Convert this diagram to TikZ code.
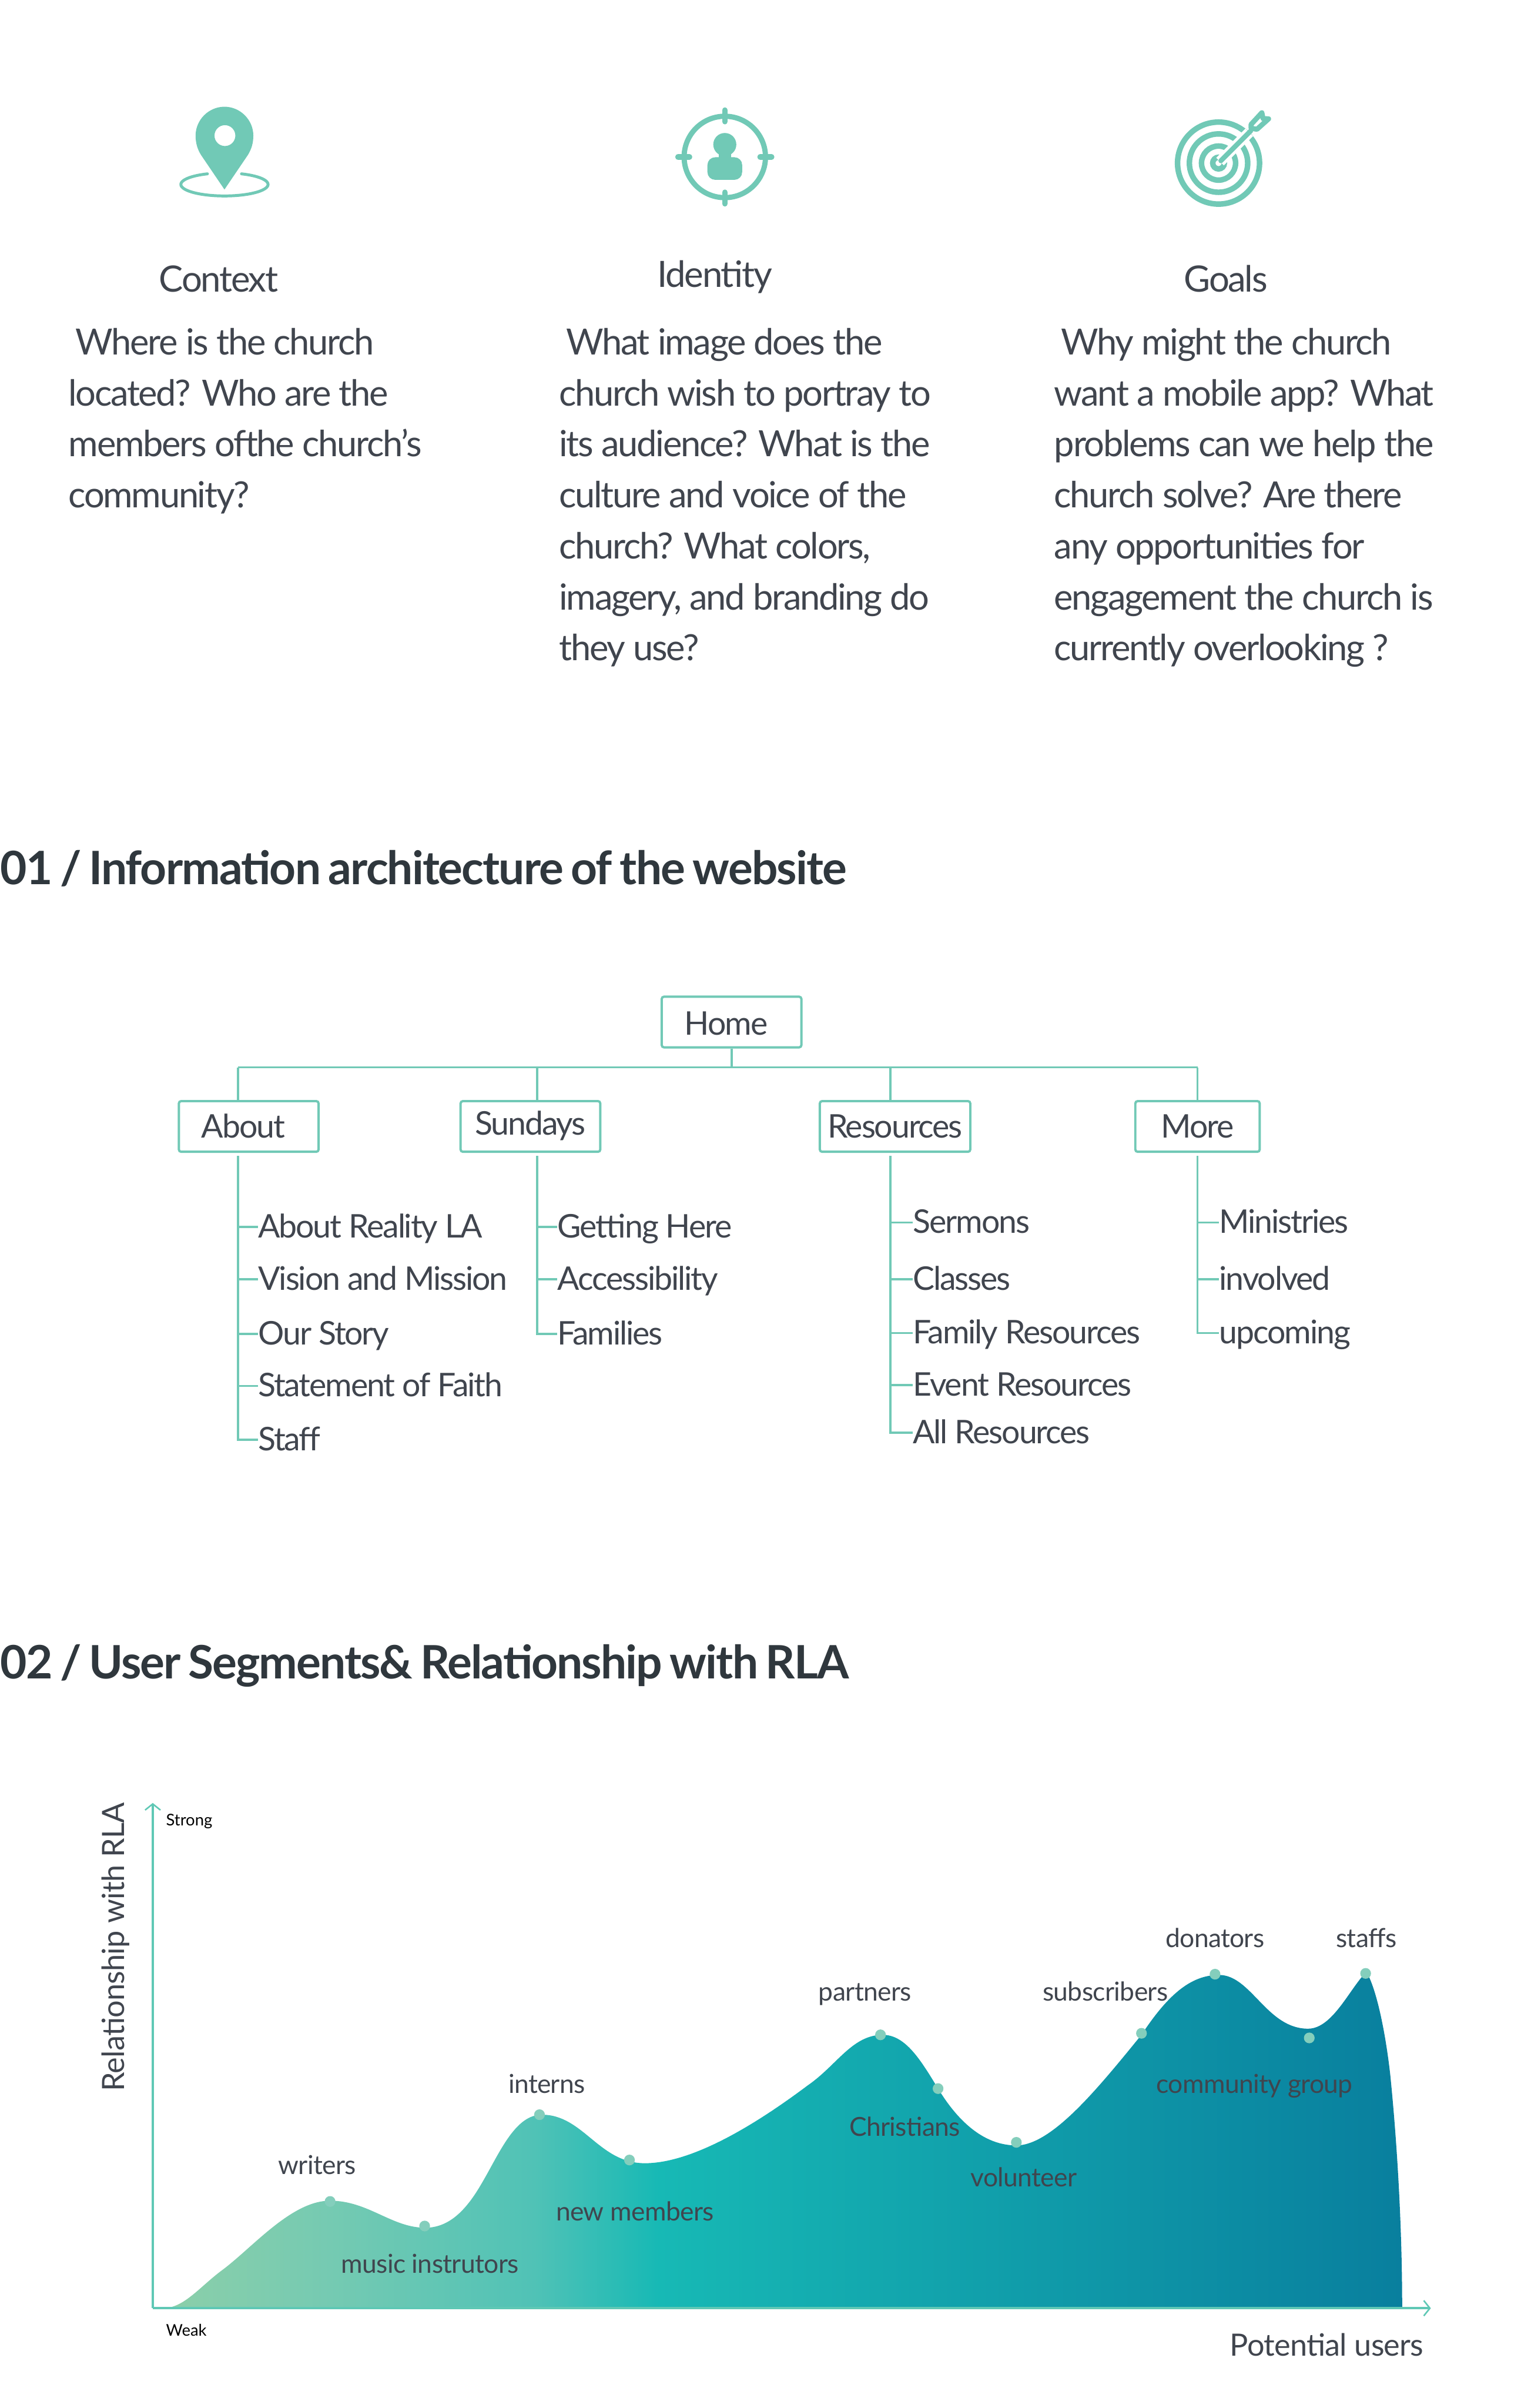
\documentclass[tikz,border=0pt]{standalone}
\usepackage{fontspec}
\setmainfont{Lato}
\newfontfamily\bodyfont{Lato}[LetterSpace=-3.8]
\newfontfamily\headfont{Lato}[LetterSpace=-2.5, WordSpace=0.75]
\newfontfamily\labelfont{Lato}[LetterSpace=-1.5]
\usepackage{xcolor}
\usetikzlibrary{arrows.meta, positioning}
\definecolor{teal}{HTML}{71C9B6}
\definecolor{ink}{HTML}{40454E}
\definecolor{headink}{HTML}{2F373D}
\definecolor{dotc}{HTML}{84CEBC}
\definecolor{axisc}{HTML}{5FC8B5}
\definecolor{chartA}{HTML}{8CCFA9}
\definecolor{chartM}{HTML}{75CAB2}
\definecolor{chartN}{HTML}{50C2B6}
\definecolor{chartB}{HTML}{17B9B5}
\definecolor{chartC}{HTML}{097F9E}
\pgfdeclarehorizontalshading{areafade}{100bp}{color(0bp)=(chartA); color(25bp)=(chartA); color(31.75bp)=(chartM); color(40bp)=(chartN); color(45bp)=(chartB); color(75bp)=(chartC); color(100bp)=(chartC)}
\tikzset{
  coltitle/.style={anchor=base west, inner sep=0pt, text=ink, font=\fontsize{23.6}{29}\selectfont\bodyfont},
  bodytext/.style={anchor=north west, inner sep=0pt, align=left, text=ink, font=\fontsize{23.5}{33.2}\selectfont\bodyfont},
  headline/.style={anchor=base west, inner sep=0pt, text=headink, font=\fontsize{30}{36}\selectfont\headfont\bfseries},
  treebox/.style={draw=teal, line width=1.5pt, rounded corners=1.5pt, inner sep=0pt, minimum height=33pt, text height=21pt, text depth=6pt, text=ink, font=\fontsize{21.2}{26}\selectfont\bodyfont},
  leaf/.style={anchor=west, inner sep=0pt, text height=20pt, text depth=6pt, text=ink, font=\fontsize{21.2}{26}\selectfont\bodyfont},
  treeline/.style={teal, line width=1.4pt},
  seglabel/.style={anchor=base west, inner sep=0pt, text=ink, font=\fontsize{17}{20}\selectfont\labelfont},
  smalllabel/.style={anchor=base west, inner sep=0pt, text=black, font=\fontsize{10.5}{12}\selectfont},
  segdot/.style={circle, fill=dotc, inner sep=0pt, minimum size=7pt},
  axisline/.style={axisc, line width=1.5pt, -{Straight Barb[length=4pt,width=10pt,line width=1pt]}},
}
\begin{document}
\begin{tikzpicture}[x=1pt, y=-1pt]
\fill[white] (0,0) rectangle (997,1568);

% Pin icon
\fill[teal, even odd rule] (146.2,123.4) -- (131,101) .. controls (128.5,97) and (127.4,93) .. (127.4,88.3)
  .. controls (127.4,78) and (136,69.5) .. (146.2,69.5) .. controls (156.4,69.5) and (165,78) .. (165,88.3)
  .. controls (165,93) and (163.9,97) .. (161.4,101) -- cycle
  (146.5,88.3) circle[radius=6.8pt];
\draw[teal, line width=1.9pt, line cap=round] plot[domain=113:427, samples=60, smooth] ({146.2+28.4*cos(\x)},{120.1-7.5*sin(\x)});

% Person icon
\begin{scope}[shift={(472.1,102.2)}]
\draw[teal, line width=3.4pt] (0,0) circle[radius=26.5pt];
\draw[teal, line width=3.6pt, line cap=round] (0,-30.5) -- (0,-23) (0,23) -- (0,30.5) (-30.5,0) -- (-23,0) (23,0) -- (30.5,0);
\fill[teal] (0,-8.1) circle[radius=7.5pt];
\fill[teal] (-4,-3) rectangle (4,2);
\fill[teal, rounded corners=5pt] (-11.3,14.9) -- (-11.3,0.2) -- (11.3,0.2) -- (11.3,14.9) -- cycle;
\end{scope}

% Target icon
\begin{scope}[shift={(793.7,106.2)}]
\foreach \ringr in {26.7,19,11.1,3.8}
  \draw[teal, line width=3.6pt] (0,0) circle[radius=\ringr pt];
\draw[white, line width=7pt] (1,-1) -- (20,-20);
\draw[teal, line width=3.2pt, line cap=round] (1.5,-1.5) -- (21,-21);
\draw[teal, line width=3.3pt, line join=round] (21.2,-25.2) -- (28.2,-32.8) -- (29,-29) -- (32.6,-28.8) -- (25,-22) -- (21.2,-22.7) -- cycle;
\end{scope}

% Three columns
\node[coltitle] (contextT) at (103.5,190) {Context};
\node[coltitle] (identityT) at (428,187) {Identity};
\node[coltitle] (goalsT) at (771,190) {Goals};
\node[bodytext] (contextB) at (44.5,213.5) {\hspace*{4.5pt}Where is the church\\located? Who are the\\members ofthe church’s\\community?};
\node[bodytext] (identityB) at (364,213.5) {\hspace*{4.5pt}What image does the\\church wish to portray to\\its audience? What is the\\culture and voice of the\\church? What colors,\\imagery, and branding do\\they use?};
\node[bodytext] (goalsB) at (686.5,213.5) {\hspace*{4.5pt}Why might the church\\want a mobile app? What\\problems can we help the\\church solve? Are there\\any opportunities for\\engagement the church is\\currently overlooking ?};

% Section titles
\node[headline] (titleA) at (0,576) {01 / Information architecture of the website};
\node[headline] (titleB) at (0,1093) {02 / User Segments\& Relationship with RLA};

% Site tree
\node[treebox, minimum width=91pt] (home) at (476.5,665.5) {\raisebox{-1pt}{Home}\kern7pt};
\node[treebox, minimum width=91pt] (about) at (162,733.5) {About\kern7pt};
\node[treebox, minimum width=91pt] (sundays) at (345.5,733.5) {\raisebox{2pt}{Sundays}};
\node[treebox, minimum width=98pt] (resources) at (583,733.5) {Resources};
\node[treebox, minimum width=81pt] (more) at (780,733.5) {More};

\coordinate (busA) at (155,695);
\coordinate (busB) at (350,695);
\coordinate (busC) at (580,695);
\coordinate (busD) at (780,695);
\draw[treeline] (busA) -- (busD);
\draw[treeline] (home.south) -- (home.south |- busA);
\foreach \busname/\boxname in {busA/about, busB/sundays, busC/resources, busD/more}
  \draw[treeline] (\busname) -- (\busname |- \boxname.north);

\node[leaf] (aboutA) at (168,799) {About Reality LA};
\node[leaf] (aboutB) at (168,833) {Vision and Mission};
\node[leaf] (aboutC) at (168,868.5) {Our Story};
\node[leaf] (aboutD) at (168,902.5) {Statement of Faith};
\node[leaf] (aboutE) at (168,937.5) {Staff};
\node[leaf] (sundaysA) at (363,799) {Getting Here};
\node[leaf] (sundaysB) at (363,833) {Accessibility};
\node[leaf] (sundaysC) at (363,868.5) {Families};
\node[leaf] (resourcesA) at (594.5,796) {Sermons};
\node[leaf] (resourcesB) at (594.5,833) {Classes};
\node[leaf] (resourcesC) at (594.5,868) {Family Resources};
\node[leaf] (resourcesD) at (594.5,902) {Event Resources};
\node[leaf] (resourcesE) at (594.5,933) {All Resources};
\node[leaf] (moreA) at (794,796) {Ministries};
\node[leaf] (moreB) at (794,833) {involved};
\node[leaf] (moreC) at (794,868) {upcoming};

\draw[treeline] (busA |- about.south) ++(0,2) -- (busA |- aboutE.west) -- (aboutE.west);
\draw[treeline] (busB |- sundays.south) ++(0,2) -- (busB |- sundaysC.west) -- (sundaysC.west);
\draw[treeline] (busC |- resources.south) ++(0,2) -- (busC |- resourcesE.west) -- (resourcesE.west);
\draw[treeline] (busD |- more.south) ++(0,2) -- (busD |- moreC.west) -- (moreC.west);
\foreach \busname/\leafname in {busA/aboutA, busA/aboutB, busA/aboutC, busA/aboutD, busB/sundaysA, busB/sundaysB, busC/resourcesA, busC/resourcesB, busC/resourcesC, busC/resourcesD, busD/moreA, busD/moreB}
  \draw[treeline] (\busname |- \leafname.west) -- (\leafname.west);

% Chart area
\shade[shading=areafade] (106,1503) .. controls (120,1503) and (130,1489) .. (145,1478)
  .. controls (165,1463) and (190,1433) .. (215,1433)
  .. controls (240,1433) and (255,1450.6) .. (277,1450.6)
  .. controls (292,1450.6) and (303,1440) .. (313,1423)
  .. controls (325,1403) and (335,1377) .. (353,1377)
  .. controls (380,1377) and (390,1408.6) .. (420,1408.6)
  .. controls (450,1408.6) and (490,1385) .. (526,1358)
  .. controls (545,1345) and (555,1325) .. (575,1325)
  .. controls (590,1325) and (600,1342) .. (611,1360)
  .. controls (625,1383) and (642,1397) .. (662,1397)
  .. controls (685,1397) and (715,1360) .. (743.5,1325)
  .. controls (760,1300) and (775,1286) .. (794,1286)
  .. controls (815,1286) and (825,1321) .. (852,1321)
  .. controls (868,1321) and (879,1295) .. (890,1284)
  .. controls (896,1294) and (902,1320) .. (905.5,1350.7)
  .. controls (910,1395) and (913.3,1450) .. (913.3,1503) -- cycle;

% Axes
\coordinate (origin) at (99.5,1503);
\coordinate (ytip) at (99.5,1174);
\coordinate (xtip) at (932,1503);
\draw[axisline] (origin) -- (ytip);
\draw[axisline] (origin) -- (xtip);
\node[smalllabel] (strong) at (108,1189) {Strong};
\node[smalllabel] (weak) at (108,1521) {Weak};
\node[anchor=base west, inner sep=0pt, text=ink, rotate=90, font=\fontsize{20}{24}\selectfont\labelfont] (ytitle) at (81,1362) {Relationship with RLA};
\node[anchor=base west, inner sep=0pt, text=ink, font=\fontsize{20}{24}\selectfont\labelfont] (xtitle) at (801,1534) {Potential users};

% Dots
\foreach \dotx/\doty/\dotname in {215/1433.5/dotA, 276.6/1449.5/dotB, 351.4/1377/dotC, 410/1406.5/dotD, 573.5/1325/dotE, 611/1360/dotF, 662/1395/dotG, 743.5/1324/dotH, 791.4/1285.5/dotI, 852.8/1327/dotJ, 889.5/1285/dotK}
  \node[segdot] (\dotname) at (\dotx,\doty) {};

% Segment labels
\node[seglabel] (writers) at (181,1416) {writers};
\node[seglabel] (music) at (222,1480) {music instrutors};
\node[seglabel] (interns) at (331,1363) {interns};
\node[seglabel] (newm) at (362,1446) {new members};
\node[seglabel] (partners) at (533,1303) {partners};
\node[seglabel] (christians) at (553,1391) {Christians};
\node[seglabel] (volunteer) at (632,1424) {volunteer};
\node[seglabel] (subscribers) at (679,1303) {subscribers};
\node[seglabel] (donators) at (759,1268) {donators};
\node[seglabel] (staffs) at (870,1268) {staffs};
\node[seglabel] (community) at (753,1363) {community group};
\end{tikzpicture}
\end{document}
